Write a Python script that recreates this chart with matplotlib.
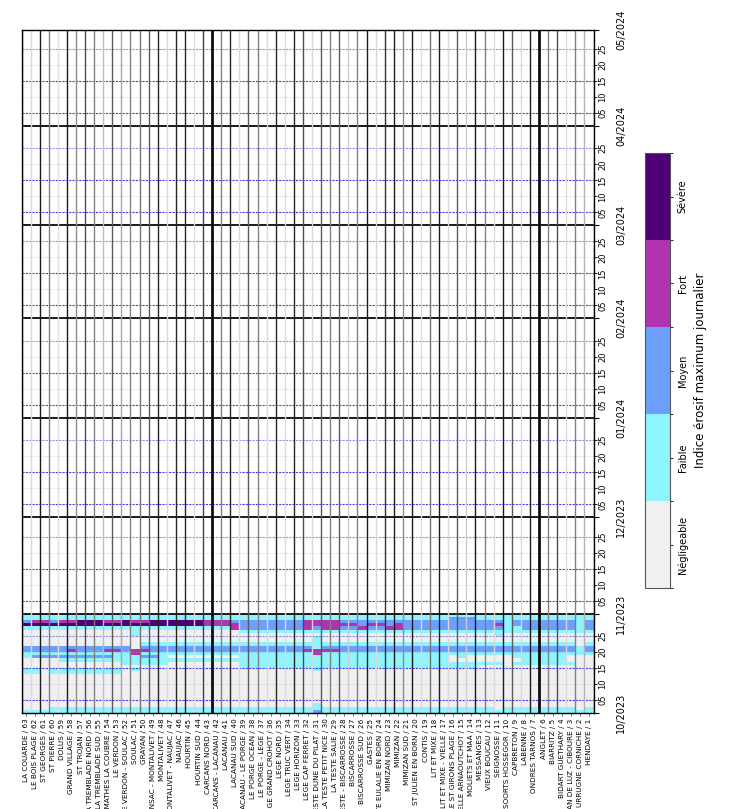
import datetime as dt

import matplotlib
matplotlib.use("Agg")
import matplotlib.dates as mdates
import matplotlib.pyplot as plt
import numpy as np
from matplotlib.colors import BoundaryNorm, ListedColormap

# Coastal sites, north to south
sites = [
    "LA COUARDE / 63", "LE BOIS PLAGE / 62", "ST GEORGES / 61", "ST PIERRE / 60",
    "DOLUS / 59", "GRAND VILLAGE / 58", "ST TROJAN / 57", "LA TREMBLADE NORD / 56",
    "LA TREMBLADE SUD / 55", "LES MATHES LA COUBRE / 54", "LE VERDON / 53",
    "LE VERDON - SOULAC / 52", "SOULAC / 51", "GRAYAN / 50", "VENSAC - MONTALIVET / 49",
    "MONTALIVET / 48", "MONTALIVET - NAUJAC / 47", "NAUJAC / 46", "HOURTIN / 45",
    "HOURTIN SUD / 44", "CARCANS NORD / 43", "CARCANS - LACANAU / 42", "LACANAU / 41",
    "LACANAU SUD / 40", "LACANAU - LE PORGE / 39", "LE PORGE OCEAN / 38",
    "LE PORGE - LEGE / 37", "LEGE GRAND CROHOT / 36", "LEGE NORD / 35",
    "LEGE TRUC VERT / 34", "LEGE HORIZON / 33", "LEGE CAP FERRET / 32",
    "LA TESTE DUNE DU PILAT / 31", "LA TESTE PETIT NICE / 30", "LA TESTE SALIE / 29",
    "LA TESTE - BISCARROSSE / 28", "BISCARROSSE / 27", "BISCARROSSE SUD / 26",
    "GASTES / 25", "STE EULALIE EN BORN / 24", "MIMIZAN NORD / 23", "MIMIZAN / 22",
    "MIMIZAN SUD / 21", "ST JULIEN EN BORN / 20", "CONTIS / 19", "LIT ET MIXE / 18",
    "LIT ET MIXE - VIELLE / 17", "VIELLE ST GIRONS PLAGE / 16", "VIELLE ARNAOUTCHOT / 15",
    "MOLIETS ET MAA / 14", "MESSANGES / 13", "VIEUX BOUCAU / 12", "SEIGNOSSE / 11",
    "SOORTS HOSSEGOR / 10", "CAPBRETON / 9", "LABENNE / 8", "ONDRES TARNOS / 7",
    "ANGLET / 6", "BIARRITZ / 5", "BIDART GUETHARY / 4", "ST JEAN DE LUZ - CIBOURE / 3",
    "URRUGNE CORNICHE / 2", "HENDAYE / 1",
]

level_names = ["Négligeable", "Faible", "Moyen", "Fort", "Sévère"]
level_colors = ["#f0f0f0", "#8ef4fd", "#6c9ffb", "#b034b0", "#4e0074"]

first_day = dt.date(2023, 10, 1)
axis_start = dt.date(2023, 10, 1)
axis_end = dt.date(2024, 5, 1)

# Daily maximum erosion index per site, 1 Oct -> 31 Oct (blocks of five days)
daily_index = [
    "10000 00000 00110 00112 20000 01421 1",
    "10000 00000 00110 00212 20000 01431 1",
    "10000 00000 00000 00212 20000 01431 1",
    "11000 00000 00110 00212 20000 01421 1",
    "11000 00000 00110 01212 20000 01431 1",
    "11000 00000 00110 01213 20000 01431 1",
    "11000 00000 00110 01212 20000 01441 1",
    "11000 00000 00110 01212 20000 01441 1",
    "11000 00000 00110 01212 20000 01441 1",
    "11000 00000 00110 01213 20000 01431 1",
    "11000 00000 00110 01113 20000 01431 1",
    "11000 00000 00000 11112 20000 01441 1",
    "11000 00000 00010 11133 00001 11431 1",
    "11000 00000 00000 11213 21000 01431 1",
    "11000 00000 00000 11212 21000 01441 1",
    "11000 00000 00000 11112 21000 01441 1",
    "11000 00000 00000 01012 21000 01441 1",
    "11000 00000 00000 01012 21000 01441 1",
    "11000 00000 00000 01012 21000 01441 1",
    "11000 00000 00000 01012 21000 01441 1",
    "11000 00000 00000 01012 21000 01331 1",
    "11000 00000 00000 01012 21000 01331 1",
    "11000 00000 00000 01012 21000 01331 1",
    "11000 00000 00000 01012 21000 03321 1",
    "11000 00000 00001 11112 21000 12221 1",
    "11000 00000 00001 11112 21000 12221 1",
    "11000 00000 00001 11112 21000 12221 1",
    "11000 00000 00001 11112 21000 12221 1",
    "11000 00000 00001 11112 21000 12221 1",
    "11000 00000 00001 11112 21000 12221 1",
    "11000 00000 00001 11112 21000 12221 1",
    "11000 00000 00001 11113 21000 13331 1",
    "21100 00000 00011 11133 11110 12331 1",
    "11000 00000 00001 11113 21000 13331 1",
    "11000 00000 00001 11113 21000 13331 1",
    "11000 00000 00001 11112 21000 12321 1",
    "11000 00000 00001 11112 21000 12321 1",
    "11000 00000 00001 11112 21000 13221 1",
    "11000 00000 00001 11112 21000 12321 1",
    "11000 00000 00001 11112 21000 12321 1",
    "11000 00000 00001 11112 21000 13221 1",
    "11000 00000 00001 11112 21000 13321 1",
    "11000 00000 00001 11112 21000 12221 1",
    "11000 00000 00001 11112 21000 12221 1",
    "11000 00000 00001 11112 21000 12221 1",
    "11000 00000 00001 11112 21000 12221 1",
    "11000 00000 00001 11112 21000 12221 1",
    "11000 00000 00001 10012 21000 12222 1",
    "11000 00000 00001 10112 21000 12222 1",
    "11000 00000 00001 10012 21000 12222 1",
    "11000 00000 00000 10012 21000 12221 1",
    "11000 00000 00000 10012 21000 12221 1",
    "10000 00000 00000 10012 21001 12321 1",
    "11000 00000 00000 00012 21000 11111 1",
    "11000 00000 00000 10112 21000 11221 1",
    "11000 00000 00000 11112 21000 12221 1",
    "11000 00000 00000 11112 21000 12221 1",
    "11000 00000 00000 11112 21000 12221 1",
    "11000 00000 00000 11112 21000 12221 1",
    "11000 00000 00000 11112 21000 12221 1",
    "11000 00000 00000 10012 21000 12221 1",
    "10000 00000 00000 00011 10000 11111 1",
    "11000 00000 00000 00012 21000 12221 1",
]

# Grey level of the separator drawn between neighbouring sites (0 = black)
separator_greys = [
    0.50, 0.85, 0.10, 0.50, 0.88, 0.10, 0.55, 0.30, 0.50, 0.75,
    0.35, 0.65, 0.50, 0.45, 0.35, 0.15, 0.85, 0.15, 0.15, 0.85,
    0.25, 0.05, 0.50, 0.15, 0.85, 0.35, 0.50, 0.85, 0.15, 0.85,
    0.15, 0.30, 0.85, 0.35, 0.50, 0.35, 0.80, 0.50, 0.10, 0.85,
    0.20, 0.10, 0.55, 0.10, 0.85, 0.45, 0.10, 0.85, 0.35, 0.80,
    0.10, 0.50, 0.85, 0.10, 0.35, 0.85, 0.10, 0.05, 0.50, 0.30,
    0.85, 0.50, 0.70, 0.50,
]
thick_separators = [21, 57]

values = np.array([[int(c) for c in row.replace(" ", "")] for row in daily_index])
n_sites, n_days = values.shape

fig = plt.figure(figsize=(7.31, 8.09), dpi=100)
ax = fig.add_axes([21.5 / 731, 1 - 713 / 809, 572 / 731, (713 - 29.5) / 809])

cmap = ListedColormap(level_colors)
norm = BoundaryNorm(np.arange(-0.5, len(level_colors) + 0.5), cmap.N)

x_edges = np.arange(n_sites + 1)
day0 = mdates.date2num(first_day)
y_edges = day0 + np.arange(n_days + 1)
mesh = ax.pcolormesh(x_edges, y_edges, values.T, cmap=cmap, norm=norm, zorder=1)

ax.set_xlim(0, n_sites)
ax.set_ylim(mdates.date2num(axis_start), mdates.date2num(axis_end))

# Date grid: months in black, 5-day steps in dashed blue
day = axis_start
while day < axis_end:
    pos = mdates.date2num(day)
    if day.day == 1 and day != axis_start:
        ax.axhline(pos, color="#1a1a1a", lw=1.4, zorder=3)
    elif day.day in (5, 15):
        ax.axhline(pos, color="#2020f0", lw=0.8, ls=(0, (2, 1)), alpha=0.85, zorder=3)
    elif day.day == 25:
        ax.axhline(pos, color="#4040f0", lw=0.8, ls=(0, (2, 1)), alpha=0.6, zorder=3)
    elif day.day in (10, 20):
        ax.axhline(pos, color="#a0a0f0", lw=0.8, ls=(0, (2, 1)), alpha=0.3, zorder=3)
    day += dt.timedelta(days=1)

# Site separators
for k, g in enumerate(separator_greys):
    lw = 2.0 if k in thick_separators else 1.0
    ax.axvline(k, color=str(g), lw=lw, zorder=4)

# Site axis
ax.set_xticks(np.arange(n_sites) + 0.5)
ax.set_xticklabels(sites, rotation=90, fontsize=5.2)
ax.tick_params(axis="x", length=2.5, width=0.6, pad=1.5, color="#555555")

# Date axis on the right
ax.yaxis.tick_right()
ax.yaxis.set_major_locator(mdates.MonthLocator())
ax.yaxis.set_major_formatter(mdates.DateFormatter("%m/%Y"))
ax.yaxis.set_minor_locator(mdates.DayLocator(bymonthday=[5, 10, 15, 20, 25]))
ax.yaxis.set_minor_formatter(mdates.DateFormatter("%d"))
ax.tick_params(axis="y", which="major", length=3.5, pad=13, labelsize=7)
ax.tick_params(axis="y", which="minor", length=2, pad=1.5, labelsize=6)
for lab in ax.get_yticklabels(which="both"):
    lab.set_rotation(90)
    lab.set_va("center")

for sp in ax.spines.values():
    sp.set_linewidth(1.0)
    sp.set_zorder(5)

# Colour scale
cax = fig.add_axes([645 / 731, 1 - 588 / 809, 24.5 / 731, (588 - 153) / 809])
cb = fig.colorbar(mesh, cax=cax, orientation="vertical")
cb.set_ticks(np.arange(len(level_names)))
cb.set_ticklabels(level_names)
cb.ax.tick_params(labelsize=7, length=2.5, width=0.6)
for lab in cb.ax.get_yticklabels():
    lab.set_rotation(90)
    lab.set_va("center")
cb.set_label("Indice érosif maximum journalier", fontsize=8.5, labelpad=4)
cb.outline.set_edgecolor("#555555")

fig.savefig("out.png", dpi=100)
